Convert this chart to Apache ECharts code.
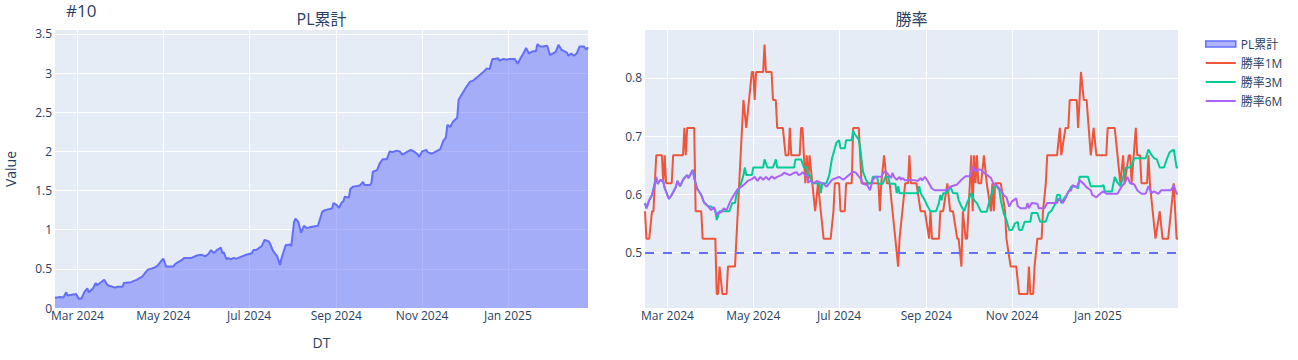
<!DOCTYPE html>
<html><head><meta charset="utf-8">
<script src="https://cdn.jsdelivr.net/npm/echarts@6/dist/echarts.min.js"></script>
<style>html,body{margin:0;padding:0;background:#fff}#c{width:1298px;height:360px}</style>
</head><body><div id="c"></div>
<script>
const CHART_TITLE = '#10';
const SUBTITLES = ['PL累計', '勝率'];
const Y_NAME = 'Value';
const X_NAME = 'DT';
const X_MIN = '2024-02-14', X_MAX = '2025-02-27';
const X_TICKS = ['2024-03-01','2024-05-01','2024-07-01','2024-09-01','2024-11-01','2025-01-01'];
const X_TICK_LABELS = ['Mar 2024','May 2024','Jul 2024','Sep 2024','Nov 2024','Jan 2025'];
const PL_TICKS = [0,0.5,1,1.5,2,2.5,3,3.5];
const PL_MAX = 3.55;
const WR_TICKS = [0.5,0.6,0.7,0.8];
const WR_MIN = 0.405, WR_MAX = 0.882;
const THRESHOLD = 0.5;
const SERIES_NAMES = ['PL累計','勝率1M','勝率3M','勝率6M'];

const PL_DATES = ['2024-02-14','2024-02-18','2024-02-20','2024-02-22','2024-02-23','2024-02-26','2024-02-29','2024-03-02','2024-03-04','2024-03-06','2024-03-08','2024-03-09','2024-03-12','2024-03-14','2024-03-15','2024-03-17','2024-03-20','2024-03-22','2024-03-24','2024-03-28','2024-03-29','2024-04-02','2024-04-03','2024-04-08','2024-04-12','2024-04-16','2024-04-20','2024-04-24','2024-04-27','2024-04-30','2024-05-01','2024-05-03','2024-05-08','2024-05-10','2024-05-14','2024-05-16','2024-05-21','2024-05-25','2024-05-28','2024-05-31','2024-06-02','2024-06-04','2024-06-06','2024-06-08','2024-06-11','2024-06-12','2024-06-13','2024-06-15','2024-06-16','2024-06-18','2024-06-20','2024-06-22','2024-06-26','2024-06-29','2024-07-03','2024-07-04','2024-07-06','2024-07-10','2024-07-12','2024-07-15','2024-07-16','2024-07-18','2024-07-21','2024-07-23','2024-07-24','2024-07-27','2024-07-30','2024-07-31','2024-08-02','2024-08-03','2024-08-05','2024-08-07','2024-08-09','2024-08-11','2024-08-13','2024-08-16','2024-08-19','2024-08-22','2024-08-24','2024-08-29','2024-08-30','2024-09-01','2024-09-03','2024-09-05','2024-09-06','2024-09-07','2024-09-10','2024-09-11','2024-09-13','2024-09-17','2024-09-18','2024-09-20','2024-09-21','2024-09-25','2024-09-26','2024-09-27','2024-09-30','2024-10-02','2024-10-04','2024-10-07','2024-10-09','2024-10-11','2024-10-14','2024-10-16','2024-10-18','2024-10-21','2024-10-24','2024-10-27','2024-10-29','2024-10-30','2024-11-01','2024-11-04','2024-11-05','2024-11-08','2024-11-11','2024-11-14','2024-11-16','2024-11-18','2024-11-19','2024-11-21','2024-11-23','2024-11-26','2024-11-27','2024-11-29','2024-12-02','2024-12-05','2024-12-07','2024-12-11','2024-12-15','2024-12-17','2024-12-19','2024-12-21','2024-12-23','2024-12-25','2024-12-26','2024-12-29','2024-12-31','2025-01-02','2025-01-06','2025-01-08','2025-01-10','2025-01-12','2025-01-14','2025-01-16','2025-01-19','2025-01-21','2025-01-22','2025-01-24','2025-01-26','2025-01-29','2025-01-31','2025-02-04','2025-02-06','2025-02-08','2025-02-12','2025-02-13','2025-02-15','2025-02-17','2025-02-19','2025-02-21','2025-02-24','2025-02-26','2025-02-27'];
const PL_VALUES = [0.13,0.14,0.135,0.20,0.16,0.17,0.18,0.115,0.125,0.21,0.25,0.20,0.25,0.32,0.29,0.32,0.36,0.30,0.28,0.26,0.27,0.27,0.32,0.33,0.36,0.40,0.49,0.51,0.54,0.61,0.63,0.53,0.53,0.57,0.61,0.64,0.64,0.67,0.68,0.66,0.69,0.74,0.70,0.74,0.77,0.70,0.71,0.62,0.64,0.62,0.64,0.63,0.66,0.68,0.70,0.74,0.74,0.79,0.87,0.85,0.82,0.73,0.66,0.55,0.63,0.80,0.81,0.79,1.10,1.14,1.10,0.96,1.05,1.02,1.03,1.04,1.05,1.23,1.25,1.27,1.34,1.32,1.28,1.35,1.36,1.42,1.41,1.52,1.55,1.56,1.57,1.61,1.57,1.57,1.60,1.74,1.76,1.85,1.90,1.90,2.00,1.99,2.01,2.00,1.96,1.99,2.02,1.99,1.96,1.93,2.00,2.02,1.99,1.97,2.00,2.03,2.13,2.18,2.34,2.31,2.38,2.43,2.66,2.72,2.81,2.89,2.90,2.96,3.02,3.06,3.05,3.18,3.18,3.19,3.16,3.18,3.17,3.18,3.18,3.12,3.19,3.25,3.32,3.25,3.28,3.28,3.37,3.34,3.34,3.35,3.23,3.27,3.36,3.30,3.26,3.22,3.25,3.22,3.25,3.34,3.34,3.30,3.33];

const WR1_DATES = ['2024-02-14','2024-02-15','2024-02-17','2024-02-19','2024-02-20','2024-02-22','2024-02-26','2024-02-27','2024-02-28','2024-02-29','2024-03-04','2024-03-05','2024-03-12','2024-03-13','2024-03-14','2024-03-15','2024-03-20','2024-03-21','2024-03-25','2024-03-26','2024-04-04','2024-04-05','2024-04-06','2024-04-07','2024-04-09','2024-04-12','2024-04-13','2024-04-18','2024-04-19','2024-04-20','2024-04-21','2024-04-22','2024-04-23','2024-04-24','2024-04-26','2024-04-28','2024-04-30','2024-05-01','2024-05-02','2024-05-03','2024-05-08','2024-05-09','2024-05-10','2024-05-14','2024-05-15','2024-05-17','2024-05-18','2024-05-22','2024-05-24','2024-05-26','2024-05-27','2024-05-28','2024-06-03','2024-06-04','2024-06-05','2024-06-07','2024-06-08','2024-06-09','2024-06-10','2024-06-12','2024-06-14','2024-06-16','2024-06-18','2024-06-20','2024-06-25','2024-06-27','2024-06-28','2024-07-01','2024-07-02','2024-07-05','2024-07-06','2024-07-10','2024-07-11','2024-07-15','2024-07-17','2024-07-29','2024-07-30','2024-07-31','2024-08-02','2024-08-04','2024-08-06','2024-08-08','2024-08-10','2024-08-12','2024-08-13','2024-08-15','2024-08-17','2024-08-19','2024-08-20','2024-08-21','2024-08-25','2024-08-28','2024-08-31','2024-09-03','2024-09-04','2024-09-05','2024-09-10','2024-09-11','2024-09-13','2024-09-16','2024-09-18','2024-09-20','2024-09-23','2024-09-24','2024-09-26','2024-09-27','2024-09-29','2024-09-30','2024-10-02','2024-10-03','2024-10-04','2024-10-05','2024-10-06','2024-10-07','2024-10-08','2024-10-10','2024-10-12','2024-10-14','2024-10-17','2024-10-18','2024-10-19','2024-10-20','2024-10-24','2024-10-27','2024-10-28','2024-10-31','2024-11-04','2024-11-06','2024-11-12','2024-11-13','2024-11-14','2024-11-16','2024-11-17','2024-11-19','2024-11-22','2024-11-23','2024-11-25','2024-11-26','2024-12-03','2024-12-05','2024-12-06','2024-12-09','2024-12-11','2024-12-12','2024-12-17','2024-12-18','2024-12-20','2024-12-22','2024-12-24','2024-12-27','2024-12-29','2024-12-31','2025-01-07','2025-01-08','2025-01-13','2025-01-15','2025-01-17','2025-01-19','2025-01-20','2025-01-23','2025-01-24','2025-01-25','2025-01-28','2025-01-29','2025-01-31','2025-02-01','2025-02-05','2025-02-06','2025-02-07','2025-02-09','2025-02-11','2025-02-14','2025-02-16','2025-02-20','2025-02-22','2025-02-24','2025-02-25','2025-02-26','2025-02-27'];
const WR1_VALUES = [0.571,0.524,0.524,0.571,0.571,0.667,0.667,0.619,0.667,0.619,0.619,0.667,0.667,0.714,0.667,0.714,0.714,0.571,0.571,0.524,0.524,0.429,0.429,0.476,0.429,0.429,0.476,0.476,0.524,0.571,0.619,0.667,0.714,0.762,0.714,0.762,0.81,0.81,0.762,0.81,0.81,0.857,0.81,0.81,0.762,0.762,0.714,0.714,0.667,0.667,0.714,0.667,0.667,0.714,0.714,0.619,0.667,0.619,0.667,0.619,0.571,0.619,0.571,0.524,0.524,0.571,0.619,0.619,0.571,0.571,0.619,0.619,0.714,0.714,0.619,0.619,0.571,0.619,0.667,0.619,0.619,0.571,0.524,0.476,0.524,0.571,0.619,0.619,0.667,0.619,0.619,0.571,0.571,0.524,0.571,0.524,0.524,0.571,0.571,0.619,0.571,0.571,0.524,0.524,0.476,0.571,0.524,0.524,0.619,0.667,0.571,0.667,0.619,0.667,0.619,0.619,0.667,0.619,0.571,0.619,0.571,0.619,0.619,0.571,0.524,0.476,0.476,0.429,0.429,0.476,0.429,0.429,0.476,0.524,0.524,0.571,0.619,0.667,0.667,0.714,0.667,0.714,0.714,0.762,0.762,0.714,0.81,0.762,0.762,0.667,0.714,0.667,0.667,0.714,0.714,0.667,0.619,0.667,0.619,0.667,0.667,0.619,0.714,0.667,0.667,0.619,0.619,0.667,0.619,0.571,0.524,0.571,0.524,0.524,0.571,0.619,0.571,0.524,0.524];

const WR3_DATES = ['2024-02-14','2024-02-15','2024-02-17','2024-02-19','2024-02-21','2024-02-22','2024-02-23','2024-02-25','2024-02-27','2024-02-28','2024-03-02','2024-03-04','2024-03-07','2024-03-08','2024-03-10','2024-03-12','2024-03-13','2024-03-15','2024-03-16','2024-03-19','2024-03-20','2024-03-22','2024-03-25','2024-03-27','2024-03-30','2024-04-01','2024-04-04','2024-04-05','2024-04-07','2024-04-14','2024-04-16','2024-04-18','2024-04-19','2024-04-22','2024-04-24','2024-04-25','2024-04-26','2024-04-30','2024-05-01','2024-05-08','2024-05-09','2024-05-11','2024-05-15','2024-05-17','2024-05-18','2024-05-30','2024-05-31','2024-06-04','2024-06-06','2024-06-08','2024-06-09','2024-06-10','2024-06-12','2024-06-17','2024-06-18','2024-06-19','2024-06-22','2024-06-24','2024-06-26','2024-06-28','2024-06-29','2024-07-01','2024-07-02','2024-07-05','2024-07-06','2024-07-10','2024-07-11','2024-07-12','2024-07-15','2024-07-16','2024-07-17','2024-07-18','2024-07-20','2024-07-22','2024-07-24','2024-07-25','2024-07-28','2024-07-29','2024-08-01','2024-08-03','2024-08-05','2024-08-06','2024-08-10','2024-08-11','2024-08-12','2024-08-13','2024-08-26','2024-08-27','2024-08-28','2024-08-31','2024-09-02','2024-09-04','2024-09-08','2024-09-10','2024-09-11','2024-09-12','2024-09-13','2024-09-15','2024-09-17','2024-09-18','2024-09-20','2024-09-23','2024-09-24','2024-09-26','2024-09-28','2024-09-30','2024-10-03','2024-10-05','2024-10-07','2024-10-10','2024-10-14','2024-10-17','2024-10-18','2024-10-19','2024-10-21','2024-10-23','2024-10-24','2024-10-26','2024-10-28','2024-10-30','2024-11-01','2024-11-03','2024-11-05','2024-11-06','2024-11-08','2024-11-10','2024-11-14','2024-11-15','2024-11-19','2024-11-21','2024-11-25','2024-11-27','2024-11-29','2024-12-02','2024-12-03','2024-12-05','2024-12-06','2024-12-08','2024-12-10','2024-12-13','2024-12-16','2024-12-18','2024-12-19','2024-12-25','2024-12-27','2025-01-04','2025-01-05','2025-01-06','2025-01-11','2025-01-13','2025-01-15','2025-01-17','2025-01-19','2025-01-21','2025-01-24','2025-01-27','2025-02-04','2025-02-06','2025-02-08','2025-02-10','2025-02-12','2025-02-14','2025-02-17','2025-02-19','2025-02-21','2025-02-24','2025-02-26','2025-02-27'];
const WR3_VALUES = [0.585,0.576,0.59,0.599,0.619,0.63,0.618,0.625,0.622,0.611,0.592,0.599,0.613,0.623,0.614,0.625,0.628,0.633,0.628,0.642,0.628,0.61,0.599,0.586,0.579,0.579,0.573,0.556,0.571,0.571,0.585,0.585,0.599,0.616,0.633,0.646,0.633,0.633,0.646,0.646,0.66,0.646,0.646,0.66,0.646,0.646,0.66,0.66,0.646,0.646,0.633,0.633,0.619,0.619,0.602,0.619,0.619,0.633,0.662,0.679,0.688,0.693,0.679,0.679,0.693,0.693,0.709,0.704,0.694,0.68,0.659,0.639,0.626,0.618,0.62,0.63,0.63,0.618,0.618,0.63,0.63,0.618,0.618,0.602,0.614,0.602,0.602,0.614,0.602,0.59,0.579,0.571,0.571,0.585,0.599,0.59,0.602,0.602,0.607,0.614,0.602,0.602,0.59,0.579,0.571,0.585,0.602,0.59,0.585,0.57,0.57,0.599,0.602,0.613,0.614,0.607,0.59,0.568,0.556,0.539,0.539,0.55,0.553,0.539,0.539,0.553,0.553,0.568,0.568,0.553,0.553,0.568,0.572,0.585,0.599,0.599,0.585,0.593,0.599,0.613,0.614,0.61,0.63,0.63,0.614,0.614,0.616,0.605,0.605,0.63,0.62,0.614,0.63,0.646,0.646,0.662,0.662,0.677,0.668,0.662,0.66,0.646,0.646,0.66,0.672,0.677,0.646,0.646];

const WR6_DATES = ['2024-02-14','2024-02-15','2024-02-17','2024-02-19','2024-02-21','2024-02-22','2024-02-23','2024-02-25','2024-02-27','2024-02-28','2024-03-02','2024-03-04','2024-03-07','2024-03-08','2024-03-10','2024-03-12','2024-03-13','2024-03-15','2024-03-16','2024-03-19','2024-03-20','2024-03-22','2024-03-25','2024-03-27','2024-03-30','2024-04-01','2024-04-03','2024-04-05','2024-04-06','2024-04-08','2024-04-10','2024-04-12','2024-04-15','2024-04-18','2024-04-20','2024-04-23','2024-04-25','2024-04-27','2024-04-30','2024-05-02','2024-05-04','2024-05-06','2024-05-08','2024-05-10','2024-05-12','2024-05-14','2024-05-16','2024-05-18','2024-05-21','2024-05-23','2024-05-25','2024-05-27','2024-05-30','2024-06-01','2024-06-02','2024-06-04','2024-06-05','2024-06-07','2024-06-08','2024-06-09','2024-06-11','2024-06-13','2024-06-15','2024-06-17','2024-06-20','2024-06-22','2024-06-26','2024-07-01','2024-07-04','2024-07-07','2024-07-11','2024-07-13','2024-07-16','2024-07-18','2024-07-21','2024-07-23','2024-07-25','2024-07-27','2024-07-31','2024-08-02','2024-08-04','2024-08-07','2024-08-08','2024-08-09','2024-08-11','2024-08-13','2024-08-14','2024-08-15','2024-08-17','2024-08-24','2024-08-26','2024-08-28','2024-08-29','2024-08-31','2024-09-02','2024-09-05','2024-09-07','2024-09-15','2024-09-19','2024-09-23','2024-09-26','2024-09-29','2024-10-02','2024-10-04','2024-10-06','2024-10-08','2024-10-10','2024-10-12','2024-10-14','2024-10-17','2024-10-19','2024-10-21','2024-10-24','2024-10-26','2024-10-28','2024-10-30','2024-11-01','2024-11-04','2024-11-05','2024-11-07','2024-11-11','2024-11-12','2024-11-13','2024-11-15','2024-11-19','2024-11-20','2024-11-24','2024-11-26','2024-12-03','2024-12-04','2024-12-07','2024-12-09','2024-12-11','2024-12-13','2024-12-14','2024-12-17','2024-12-19','2024-12-22','2024-12-24','2024-12-27','2024-12-28','2024-12-31','2025-01-02','2025-01-05','2025-01-07','2025-01-15','2025-01-18','2025-01-20','2025-01-22','2025-01-24','2025-01-27','2025-01-29','2025-02-01','2025-02-04','2025-02-06','2025-02-08','2025-02-10','2025-02-13','2025-02-15','2025-02-19','2025-02-22','2025-02-24','2025-02-26','2025-02-27'];
const WR6_VALUES = [0.585,0.576,0.59,0.599,0.619,0.63,0.618,0.625,0.622,0.611,0.592,0.599,0.613,0.623,0.614,0.625,0.628,0.633,0.628,0.642,0.628,0.61,0.599,0.586,0.579,0.573,0.578,0.563,0.569,0.569,0.576,0.573,0.59,0.602,0.609,0.614,0.618,0.623,0.626,0.63,0.623,0.63,0.625,0.63,0.625,0.631,0.627,0.63,0.633,0.637,0.635,0.633,0.637,0.638,0.633,0.635,0.638,0.633,0.633,0.621,0.623,0.619,0.623,0.621,0.618,0.613,0.625,0.63,0.625,0.631,0.639,0.637,0.628,0.618,0.616,0.607,0.625,0.63,0.63,0.639,0.637,0.628,0.637,0.63,0.625,0.63,0.625,0.628,0.624,0.624,0.623,0.628,0.624,0.63,0.623,0.61,0.607,0.607,0.614,0.617,0.625,0.631,0.631,0.648,0.639,0.643,0.642,0.637,0.634,0.628,0.617,0.616,0.607,0.599,0.595,0.579,0.588,0.593,0.58,0.576,0.576,0.585,0.576,0.585,0.584,0.576,0.576,0.585,0.585,0.593,0.585,0.593,0.605,0.607,0.616,0.612,0.624,0.618,0.612,0.607,0.599,0.595,0.6,0.605,0.601,0.601,0.614,0.619,0.63,0.619,0.617,0.607,0.601,0.601,0.614,0.602,0.605,0.601,0.607,0.607,0.607,0.616,0.601,0.601];

const COLORS = ['#636efa','#EF553B','#00cc96','#ab63fa'];
const AREA_COLOR = 'rgba(99,110,250,0.5)';
const FONT = '"Open Sans", "Noto Sans CJK JP", sans-serif';
const TEXT = '#2a3f5f';
const LINE_ICON = 'path://M0,0 L30,0 L30,2 L0,2 Z';

const toTime = s => echarts.number.parseDate(s).getTime();
const zip = (d, v) => d.map((x, i) => [toTime(x), v[i]]);
const tickTimes = X_TICKS.map(toTime);
const xLabel = (val) => { const i = tickTimes.indexOf(val); return i >= 0 ? X_TICK_LABELS[i] : ''; };

function xAxisCfg(idx, withName) {
  return {
    type: 'value', gridIndex: idx, min: toTime(X_MIN), max: toTime(X_MAX), scale: true,
    name: withName ? X_NAME : '', nameLocation: 'middle', nameGap: 27,
    nameTextStyle: { fontSize: 14, color: TEXT, fontFamily: FONT },
    axisLine: { show: false }, axisTick: { show: false, customValues: tickTimes },
    axisLabel: { customValues: tickTimes, formatter: xLabel, fontSize: 12, color: TEXT, fontFamily: FONT, margin: 1 },
    splitLine: { show: true, lineStyle: { color: '#fff', width: 1 } }
  };
}
function yAxisCfg(idx, ticks, min, max, name) {
  return {
    type: 'value', gridIndex: idx, min: min, max: max,
    name: name, nameLocation: 'middle', nameGap: 38, nameRotate: 90,
    nameTextStyle: { fontSize: 14, color: TEXT, fontFamily: FONT },
    axisLine: { show: false }, axisTick: { show: false, customValues: ticks },
    axisLabel: { customValues: ticks, fontSize: 12, color: TEXT, fontFamily: FONT, margin: 3 },
    splitLine: { show: true, lineStyle: { color: '#fff', width: 1 } }
  };
}

const chart = echarts.init(document.getElementById('c'), null, { renderer: 'svg', width: 1298, height: 360 });
chart.setOption({
  animation: false,
  backgroundColor: '#fff',
  textStyle: { fontFamily: FONT },
  title: [
    { text: CHART_TITLE, left: 66, top: 2, padding: 0, textStyle: { fontSize: 17, fontWeight: 'normal', color: TEXT, fontFamily: FONT } },
    { text: SUBTITLES[0], left: 321.5, top: 11, padding: 0, textAlign: 'center', textStyle: { fontSize: 16, fontWeight: 'normal', color: TEXT, fontFamily: FONT } },
    { text: SUBTITLES[1], left: 911.5, top: 11, padding: 0, textAlign: 'center', textStyle: { fontSize: 16, fontWeight: 'normal', color: TEXT, fontFamily: FONT } }
  ],
  legend: {
    orient: 'vertical', left: 1205, top: 38, padding: 0, itemWidth: 30, itemHeight: 6, itemGap: 7,
    textStyle: { fontSize: 12, color: TEXT, fontFamily: FONT },
    data: [
      { name: SERIES_NAMES[0], icon: 'rect', itemStyle: { color: AREA_COLOR, borderColor: COLORS[0], borderWidth: 1.5 } },
      { name: SERIES_NAMES[1], icon: LINE_ICON },
      { name: SERIES_NAMES[2], icon: LINE_ICON },
      { name: SERIES_NAMES[3], icon: LINE_ICON }
    ]
  },
  grid: [
    { left: 55, top: 30, width: 533, height: 278, show: true, backgroundColor: '#E5ECF6', borderWidth: 0 },
    { left: 645, top: 30, width: 533, height: 278, show: true, backgroundColor: '#E5ECF6', borderWidth: 0 }
  ],
  xAxis: [xAxisCfg(0, true), xAxisCfg(1, false)],
  yAxis: [yAxisCfg(0, PL_TICKS, 0, PL_MAX, Y_NAME), yAxisCfg(1, WR_TICKS, WR_MIN, WR_MAX, '')],
  series: [
    { name: SERIES_NAMES[0], type: 'line', xAxisIndex: 0, yAxisIndex: 0, data: zip(PL_DATES, PL_VALUES),
      symbol: 'none', showSymbol: false, color: COLORS[0], lineStyle: { width: 2, color: COLORS[0] },
      areaStyle: { color: AREA_COLOR, opacity: 1, origin: 'start' } },
    { name: SERIES_NAMES[1], type: 'line', xAxisIndex: 1, yAxisIndex: 1, data: zip(WR1_DATES, WR1_VALUES),
      symbol: 'none', showSymbol: false, color: COLORS[1], lineStyle: { width: 2, color: COLORS[1] } },
    { name: SERIES_NAMES[2], type: 'line', xAxisIndex: 1, yAxisIndex: 1, data: zip(WR3_DATES, WR3_VALUES),
      symbol: 'none', showSymbol: false, color: COLORS[2], lineStyle: { width: 2, color: COLORS[2] } },
    { name: SERIES_NAMES[3], type: 'line', xAxisIndex: 1, yAxisIndex: 1, data: zip(WR6_DATES, WR6_VALUES),
      symbol: 'none', showSymbol: false, color: COLORS[3], lineStyle: { width: 2, color: COLORS[3] },
      markLine: { silent: true, symbol: 'none', label: { show: false },
        lineStyle: { color: COLORS[0], type: [9, 9], width: 2, opacity: 1 }, data: [{ yAxis: THRESHOLD }] } }
  ]
});
</script>
</body></html>
